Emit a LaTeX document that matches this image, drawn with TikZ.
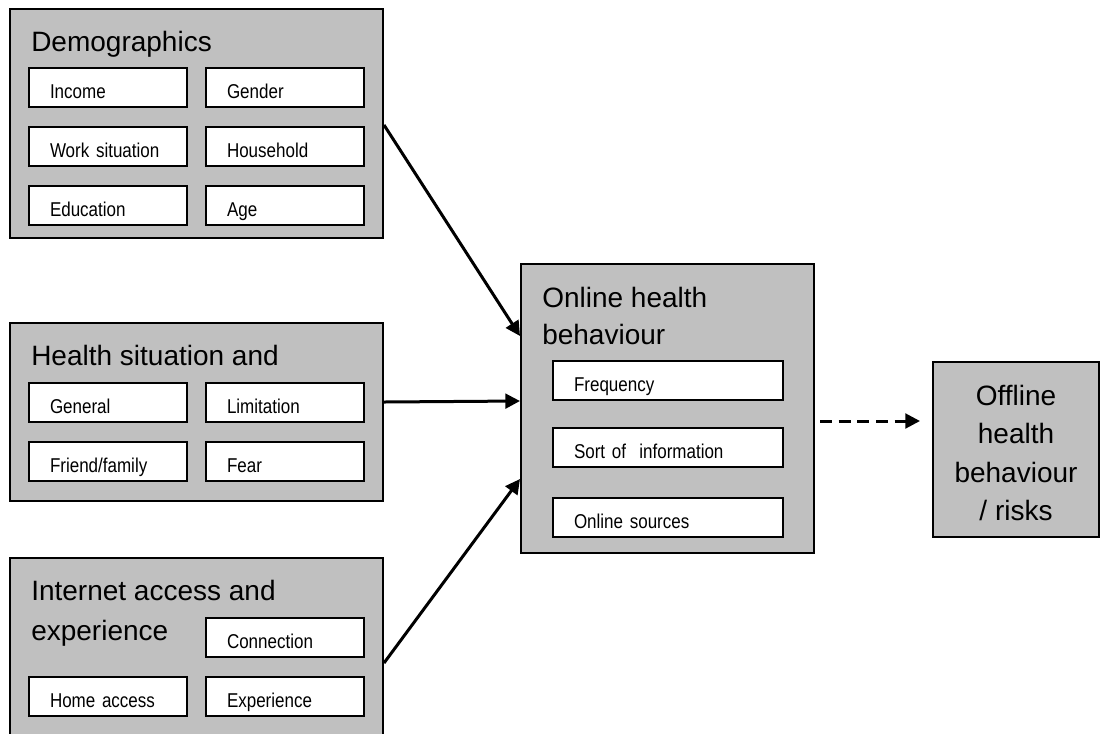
\documentclass[tikz,border=0pt]{standalone}
\usepackage{fontspec}
\setmainfont{Liberation Sans}
\newfontfamily\lblfont[FakeStretch=0.85,WordSpace=0.8]{Liberation Sans}
\usetikzlibrary{arrows.meta}
\definecolor{boxgray}{HTML}{C0C0C0}
\newcommand\outerbox[5]{%
  \node[obox,minimum width={(#4-#2)*0.75pt},minimum height={(#5-#3)*0.75pt}] (#1) at ({(#2+#4)/2},{(#3+#5)/2}) {};}
\newcommand\innerbox[6]{%
  \node[ibox,minimum width={(#4-#2)*0.75pt},minimum height={(#5-#3)*0.75pt},text width={(#4-#2-42)*0.75pt}] (#1) at ({(#2+#4)/2},{(#3+#5)/2}) {#6};}
\tikzset{
  obox/.style={draw=black,line width=1.5pt,fill=boxgray,inner sep=0pt},
  ibox/.style={draw=black,line width=1.5pt,fill=white,inner xsep=15.75pt,inner ysep=0pt,
    align=left,text height=15.75pt,text depth=0pt,font=\lblfont\fontsize{15}{18}\selectfont},
  ttl/.style={inner sep=0pt,anchor=base west,font=\fontsize{21}{25}\selectfont},
  ttlc/.style={inner sep=0pt,anchor=base,font=\fontsize{21}{25}\selectfont},
  arr/.style={line width=2.25pt,-{Triangle[length=11pt,width=11pt]}},
  darr/.style={arr,dash pattern=on 9pt off 5pt}
}
\begin{document}
\begin{tikzpicture}[x=0.75pt,y=-0.75pt]
\path[use as bounding box] (0,0) rectangle (1102,733);
\clip (0,0) rectangle (1102,733);
% Demographics
\outerbox{dem}{10}{9}{383}{238}
\node[ttl] (demt) at (31,51) {Demographics};
\innerbox{income}{29}{68}{187}{107}{Income}
\innerbox{gender}{206}{68}{364}{107}{Gender}
\innerbox{work}{29}{127}{187}{166}{Work situation}
\innerbox{household}{206}{127}{364}{166}{Household}
\innerbox{education}{29}{186}{187}{225}{Education}
\innerbox{age}{206}{186}{364}{225}{Age}
% Health
\outerbox{hea}{10}{323}{383}{501}
\node[ttl] (heat) at (31,365) {Health situation and};
\innerbox{general}{29}{383}{187}{422}{General}
\innerbox{limitation}{206}{383}{364}{422}{Limitation}
\innerbox{friend}{29}{442}{187}{481}{Friend/family}
\innerbox{fear}{206}{442}{364}{481}{Fear}
% Internet
\outerbox{int}{10}{558}{383}{760}
\node[ttl] (intt1) at (31,600) {Internet access and};
\node[ttl] (intt2) at (31,640) {experience};
\innerbox{connection}{206}{618}{364}{657}{Connection}
\innerbox{home}{29}{677}{187}{716}{Home access}
\innerbox{experience}{206}{677}{364}{716}{Experience}
% Online
\outerbox{onl}{521}{264}{814}{553}
\node[ttl] (onlt1) at (542,307) {Online health};
\node[ttl] (onlt2) at (542,344) {behaviour};
\innerbox{frequency}{553}{361}{783}{400}{Frequency}
\innerbox{sort}{553}{428}{783}{467}{Sort of\ \ information}
\innerbox{sources}{553}{498}{783}{537}{Online sources}
% Offline
\outerbox{off}{933}{362}{1099}{537}
\node[ttlc] (off1) at (1016,405) {Offline};
\node[ttlc] (off2) at (1016,443) {health};
\node[ttlc] (off3) at (1016,482) {behaviour};
\node[ttlc] (off4) at (1016,520) {/ risks};
% connectors
\draw[arr] ([yshift=-1.1pt]dem.east) -- ([yshift={-73*0.75pt}]onl.north west);
\draw[arr] ([yshift={10*0.75pt}]hea.east) -- ([yshift={-138*0.75pt}]onl.north west);
\draw[arr] ([yshift={-4*0.75pt}]int.east) -- ([yshift={-216*0.75pt}]onl.north west);
\coordinate (ds) at (820,421);
\coordinate (de) at (920,421);
\draw[darr] (ds) -- (de);
\end{tikzpicture}
\end{document}
